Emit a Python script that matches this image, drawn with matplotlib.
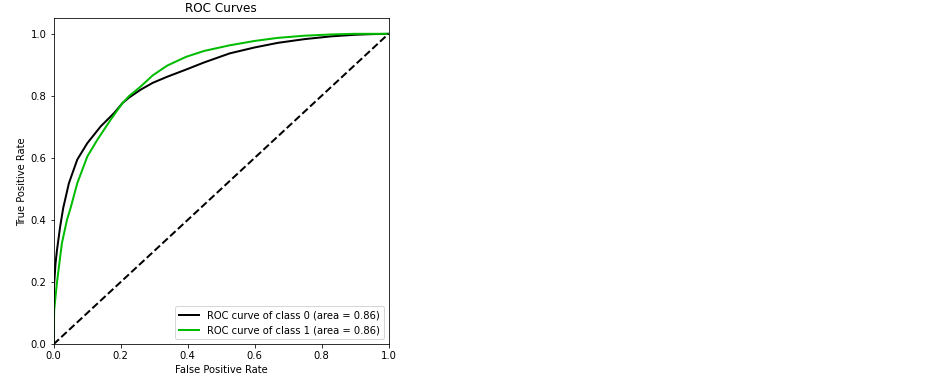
import matplotlib
matplotlib.use("Agg")
import matplotlib.pyplot as plt

# ROC points
fpr_0 = [0, 0, 0.002, 0.006, 0.01, 0.02, 0.029, 0.046, 0.071, 0.101, 0.141, 0.181, 0.206,
         0.226, 0.26, 0.296, 0.34, 0.396, 0.45, 0.526, 0.6, 0.67, 0.75, 0.83, 0.9, 0.95, 1.0]
tpr_0 = [0, 0.11, 0.196, 0.26, 0.30, 0.38, 0.439, 0.519, 0.595, 0.648, 0.702, 0.745, 0.777,
         0.795, 0.82, 0.842, 0.862, 0.885, 0.908, 0.937, 0.956, 0.971, 0.983, 0.992, 0.997, 0.999, 1.0]

fpr_1 = [0, 0.002, 0.01, 0.025, 0.04, 0.051, 0.071, 0.101, 0.131, 0.171, 0.206, 0.226,
         0.26, 0.296, 0.34, 0.396, 0.45, 0.526, 0.6, 0.67, 0.75, 0.83, 0.9, 1.0]
tpr_1 = [0, 0.11, 0.196, 0.325, 0.40, 0.439, 0.519, 0.605, 0.659, 0.724, 0.777, 0.80,
         0.83, 0.866, 0.898, 0.926, 0.945, 0.963, 0.977, 0.987, 0.994, 0.998, 1.0, 1.0]

classes = [0, 1]
areas = [0.86, 0.86]
curves = [(fpr_0, tpr_0), (fpr_1, tpr_1)]

fig = plt.figure(figsize=(937 / 72, 380 / 72), dpi=72)
ax = fig.add_axes([53.5 / 937, 35.7 / 380, 335 / 937, 326 / 380])

for i, (fpr, tpr) in enumerate(curves):
    color = plt.cm.nipy_spectral(float(i) / len(classes))
    ax.plot(fpr, tpr, lw=2, color=color,
            label='ROC curve of class {0} (area = {1:0.2f})'.format(classes[i], areas[i]))

ax.plot([0, 1], [0, 1], 'k--', lw=2)
ax.set_xlim([0.0, 1.0])
ax.set_ylim([0.0, 1.05])
ax.set_title('ROC Curves', fontsize=12)
ax.set_xlabel('False Positive Rate', fontsize=10)
ax.set_ylabel('True Positive Rate', fontsize=10)
ax.tick_params(labelsize=10)
ax.legend(loc='lower right', fontsize=10)

fig.savefig('out.png', dpi=72)
